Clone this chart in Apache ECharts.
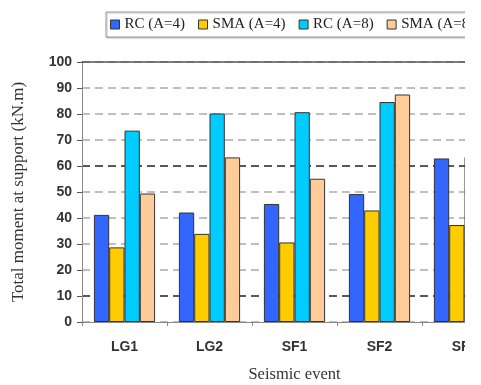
<!DOCTYPE html>
<html>
<head>
<meta charset="utf-8">
<script src="https://cdn.jsdelivr.net/npm/echarts@6/dist/echarts.min.js"></script>
<style>
  html, body { margin: 0; padding: 0; background: #fff; }
  #clip { width: 465px; height: 385px; overflow: hidden; background: #fff; }
  #chart { width: 530px; height: 385px; }
</style>
</head>
<body>
<div id="clip"><div id="chart"></div></div>
<script>
// Seismic events along the x axis
const events = ['LG1', 'LG2', 'SF1', 'SF2', 'SF3'];

// Total moment at support (kN.m) per design case
const rcA4  = [41.2, 42.1, 45.4, 49.2, 62.9];
const smaA4 = [28.7, 33.9, 30.6, 42.9, 37.3];
const rcA8  = [73.6, 80.2, 80.7, 84.6, 63.5];
const smaA8 = [49.4, 63.3, 55.1, 87.5, 60.0];

const seriesNames = ['RC (A=4)', 'SMA (A=4)', 'RC (A=8)', 'SMA (A=8)'];
const seriesColors = ['#3366ff', '#ffcc00', '#00ccff', '#ffcc99'];
const seriesData = [rcA4, smaA4, rcA8, smaA8];

// y ticks 0..100 step 10; lines at 10 and 60 drawn darker
const gridColors = ['#aaaaaa', '#222222', '#aaaaaa', '#aaaaaa', '#aaaaaa', '#aaaaaa',
                    '#222222', '#aaaaaa', '#aaaaaa', '#aaaaaa', '#aaaaaa'];

const chart = echarts.init(document.getElementById('chart'), null, { renderer: 'canvas' });

chart.setOption({
  animation: false,
  backgroundColor: '#ffffff',
  legend: {
    left: 106,
    top: 12,
    padding: [5, 6, 5, 4],
    borderColor: '#999999',
    borderWidth: 1,
    shadowColor: 'rgba(0,0,0,0.25)',
    shadowOffsetY: 1,
    shadowOffsetX: 1,
    shadowBlur: 1,
    backgroundColor: '#ffffff',
    icon: 'rect',
    itemWidth: 9,
    itemHeight: 9,
    itemGap: 13,
    itemStyle: { borderColor: '#333333', borderWidth: 1 },
    textStyle: { fontFamily: 'Liberation Serif', fontSize: 15, color: '#222222' },
    data: seriesNames
  },
  grid: { left: 82, top: 62, width: 425, height: 260, containLabel: false, outerBoundsMode: 'none' },
  xAxis: [{
    type: 'category',
    data: events,
    axisLine: { show: true, lineStyle: { color: '#888888', width: 1 } },
    axisTick: { show: true, length: 4, interval: 0, lineStyle: { color: '#888888' } },
    axisLabel: {
      margin: 18,
      fontFamily: 'Liberation Sans',
      fontWeight: 'bold',
      fontSize: 14,
      color: '#333333'
    },
    name: 'Seismic event',
    nameLocation: 'middle',
    nameGap: 44,
    nameTextStyle: { fontFamily: 'Liberation Serif', fontSize: 16.5, color: '#333333' }
  }, {
    type: 'category',
    data: events,
    position: 'top',
    axisLine: { show: true, lineStyle: { color: '#555555', width: 1.5 } },
    axisTick: { show: false },
    axisLabel: { show: false }
  }],
  yAxis: {
    type: 'value',
    min: 0,
    max: 100,
    interval: 10,
    axisLine: { show: true, lineStyle: { color: '#888888', width: 1 } },
    axisTick: { show: true, length: 5, lineStyle: { color: '#555555' } },
    axisLabel: {
      margin: 10,
      fontFamily: 'Liberation Sans',
      fontWeight: 'bold',
      fontSize: 14,
      color: '#333333'
    },
    splitLine: {
      show: true,
      lineStyle: { color: gridColors, type: [8, 5], width: 1.5 }
    },
    name: 'Total moment at support (kN.m)',
    nameLocation: 'middle',
    nameGap: 55,
    nameTextStyle: { fontFamily: 'Liberation Serif', fontSize: 17, color: '#333333' }
  },
  series: seriesNames.map((name, i) => ({
    name: name,
    type: 'bar',
    data: seriesData[i],
    barGap: '0%',
    barCategoryGap: '28%',
    itemStyle: { color: seriesColors[i], borderColor: '#333333', borderWidth: 1 }
  }))
});
</script>
</body>
</html>
